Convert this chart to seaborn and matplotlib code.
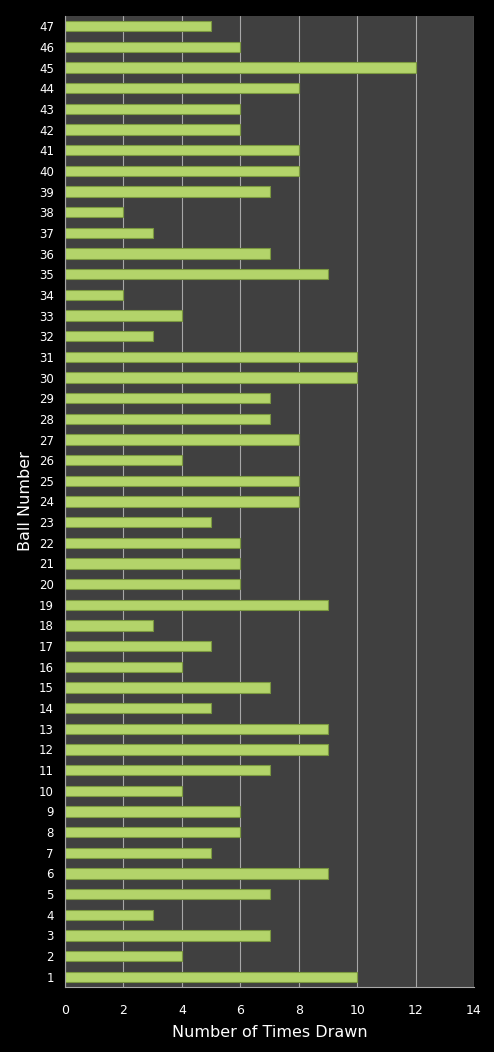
import pandas as pd
import matplotlib
matplotlib.use("Agg")
import matplotlib.pyplot as plt
import seaborn as sns

# values per ball, 1..47
balls = list(range(1, 48))
times_drawn = [10, 4, 7, 3, 7, 9, 5, 6, 6, 4,
               7, 9, 9, 5, 7, 4, 5, 3, 9, 6,
               6, 6, 5, 8, 8, 4, 8, 7, 7, 10,
               10, 3, 4, 2, 9, 7, 3, 2, 7, 8,
               8, 6, 6, 8, 12, 6, 5]
x_ticks = [0, 2, 4, 6, 8, 10, 12, 14]

df = pd.DataFrame({"Ball": [str(b) for b in balls], "Times": times_drawn})
order = [str(b) for b in reversed(balls)]

sns.set_style("dark")
plt.rcParams['font.family'] = ['DejaVu Sans']

fig = plt.figure(figsize=(4.94, 10.52), dpi=100, facecolor="black")
ax = fig.add_axes([65 / 494, 1 - 987 / 1052, 409 / 494, 971 / 1052])
ax.set_facecolor("#404040")

sns.barplot(data=df, x="Times", y="Ball", order=order, orient="h",
            color="#b3d46a", edgecolor="#7b9840", linewidth=0.8,
            width=0.5, saturation=1, ax=ax)

ax.set_xlim(0, 14)
ax.set_xticks(x_ticks)
ax.xaxis.grid(True, color="#a8a8a8", linewidth=0.8)
ax.yaxis.grid(False)
ax.set_axisbelow(True)

for s in ["top", "right"]:
    ax.spines[s].set_visible(False)
ax.spines["bottom"].set_color("#a8a8a8")
ax.spines["left"].set_color("#a8a8a8")

ax.tick_params(axis="y", colors="white", labelsize=8.5, length=0, pad=8)
ax.tick_params(axis="x", colors="white", labelsize=9, length=0, pad=12)
ax.set_xlabel("Number of Times Drawn", color="white", fontsize=11.5, labelpad=6)
ax.set_ylabel("Ball Number", color="white", fontsize=11.5, labelpad=4)

fig.savefig("out.png", dpi=100, facecolor="black")
